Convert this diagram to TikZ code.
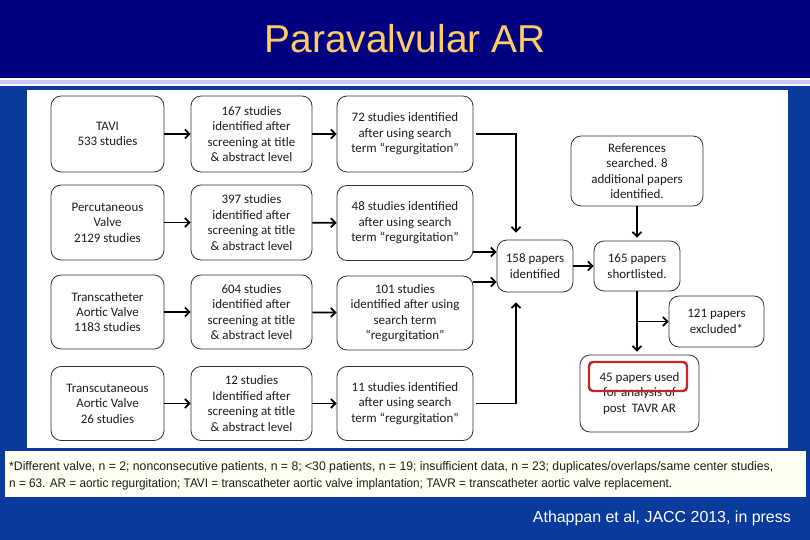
\documentclass[tikz,border=0pt]{standalone}
\usepackage{fontspec}
\usepackage{graphicx}
\setmainfont{Carlito}
\newfontfamily\arialf{Liberation Sans}
\usetikzlibrary{arrows.meta}
\definecolor{navytop}{HTML}{000080}
\definecolor{bgblue}{HTML}{0B3A9E}
\definecolor{lavender}{HTML}{C8C8F0}
\definecolor{titlegold}{HTML}{FFCC66}
\definecolor{cream}{HTML}{FFFFF2}
\definecolor{boxline}{HTML}{333333}
\definecolor{boxtext}{HTML}{1E1E1E}
\definecolor{redmark}{HTML}{C0262C}
\newcommand\bxfont{\fontsize{13}{15.5}\selectfont}
\newcommand\fnfont{\arialf\fontsize{12.5}{17}\selectfont}
\begin{document}
\begin{tikzpicture}[x=1bp,y=-1bp,
  box/.style={draw=boxline, line width=0.8bp, rounded corners=10bp, align=center,
    inner sep=0pt, font=\bxfont, text=boxtext},
  conn/.style={line width=1.7bp, -{Straight Barb[length=4.5bp,width=9bp]}},
  fnline/.style={anchor=base west, inner sep=0pt, text=boxtext}
]
\useasboundingbox (0,0) rectangle (810,540);
% background
\fill[bgblue] (0,0) rectangle (810,540);
\fill[navytop] (0,0) rectangle (810,78);
\fill[white] (0,78) rectangle (810,86);
\fill[lavender] (0,80.5) rectangle (810,84.5);
\fill[white] (27,90) rectangle (788,448);
\fill[cream] (5,451) rectangle (806,497);

% title
\node[anchor=base, text=titlegold, font=\arialf\fontsize{39}{45}\selectfont, inner sep=0pt] (title) at (405,53) {Paravalvular AR};

% column 1
\node[box, minimum width=113bp, minimum height=76bp] (a1) at (107.5,134) {TAVI\\533 studies};
\node[box, minimum width=113bp, minimum height=75bp] (a2) at (107.5,222.5) {Percutaneous\\Valve\\2129 studies};
\node[box, minimum width=113bp, minimum height=74bp] (a3) at (107.5,312) {Transcatheter\\Aortic Valve\\1183 studies};
\node[box, minimum width=113bp, minimum height=74bp] (a4) at (107.5,403.5) {Transcutaneous\\Aortic Valve\\26 studies};
% column 2
\node[box, minimum width=121bp, minimum height=76bp] (b1) at (251.5,134) {167 studies\\identified after\\screening at title\\\& abstract level};
\node[box, minimum width=121bp, minimum height=75bp] (b2) at (251.5,222.5) {397 studies\\identified after\\screening at title\\\& abstract level};
\node[box, minimum width=121bp, minimum height=74bp] (b3) at (251.5,312) {604 studies\\identified after\\screening at title\\\& abstract level};
\node[box, minimum width=121bp, minimum height=74bp] (b4) at (251.5,403.5) {12 studies\\Identified after\\screening at title\\\& abstract level};
% column 3
\node[box, minimum width=136bp, minimum height=76bp] (d1) at (405,134) {72 studies identified\\after using search\\term “regurgitation”};
\node[box, minimum width=136bp, minimum height=75bp] (d2) at (405,223) {48 studies identified\\after using search\\term “regurgitation”};
\node[box, minimum width=136bp, minimum height=74bp] (d3) at (405,313) {101 studies\\identified after using\\search term\\“regurgitation”};
\node[box, minimum width=136bp, minimum height=74bp] (d4) at (405,403.5) {11 studies identified\\after using search\\term “regurgitation”};

% right part
\node[box, minimum width=76bp, minimum height=52bp] (p158) at (535,266) {158 papers\\identified};
\node[box, minimum width=86bp, minimum height=50bp] (p165) at (637,266) {165 papers\\shortlisted.};
\node[box, minimum width=132bp, minimum height=70bp] (refs) at (637,171) {References\\searched. 8\\additional papers\\identified.};
\node[box, minimum width=95bp, minimum height=51bp] (p121) at (716.5,321.5) {121 papers\\excluded*};
\node[box, minimum width=119bp, minimum height=77bp] (p45) at (639.5,393.5) {45 papers used\\for analysis of\\post\ \ TAVR AR};
\node[draw=redmark, line width=2.4bp, rounded corners=4bp, minimum width=98bp, minimum height=29bp, inner sep=0pt] (red) at (638,376.5) {};

% row arrows
\foreach \r in {1,2,3,4} {
  \draw[conn] (a\r) -- (b\r);
  \draw[conn] (b\r) -- (d\r);
}
\coordinate (jx) at (516,300);
\coordinate (in1) at ([yshift=14bp]p158.west);
\coordinate (in2) at ([yshift=-16bp]p158.west);
\draw[conn, shorten >=7bp] ([xshift=3bp]d1.east) -| (jx |- p158.north);
\draw[conn, shorten >=10bp] ([xshift=3bp]d4.east) -| (jx |- p158.south);
\draw[conn] (d2.east |- in1) -- (in1);
\draw[conn] (d3.east |- in2) -- (in2);
\draw[conn] (p158) -- (p165);
\draw[conn, shorten >=3bp] (refs) -- (p165);
\draw[conn, shorten >=3bp] (p165.south) -- (p165.south |- p45.north);
\coordinate (br) at (p165.south |- p121.west);
\draw[conn] (br) -- (p121.west);

% footnote
\node[fnline] (fn1) at (9,470.5)
  {\resizebox{764bp}{\height}{\fnfont *Different valve, n = 2; nonconsecutive patients, n = 8; <30 patients, n = 19; insufficient data, n = 23; duplicates/overlaps/same center studies,}};
\node[fnline] (fn2) at (9,487.5)
  {\resizebox{663bp}{\height}{\fnfont n = 63. AR = aortic regurgitation; TAVI = transcatheter aortic valve implantation; TAVR = transcatheter aortic valve replacement.}};

% credit
\node[anchor=base east, text=white, inner sep=0pt, font=\arialf\fontsize{16}{19}\selectfont] (credit) at (791,522) {Athappan et al, JACC 2013, in press};
\end{tikzpicture}
\end{document}
